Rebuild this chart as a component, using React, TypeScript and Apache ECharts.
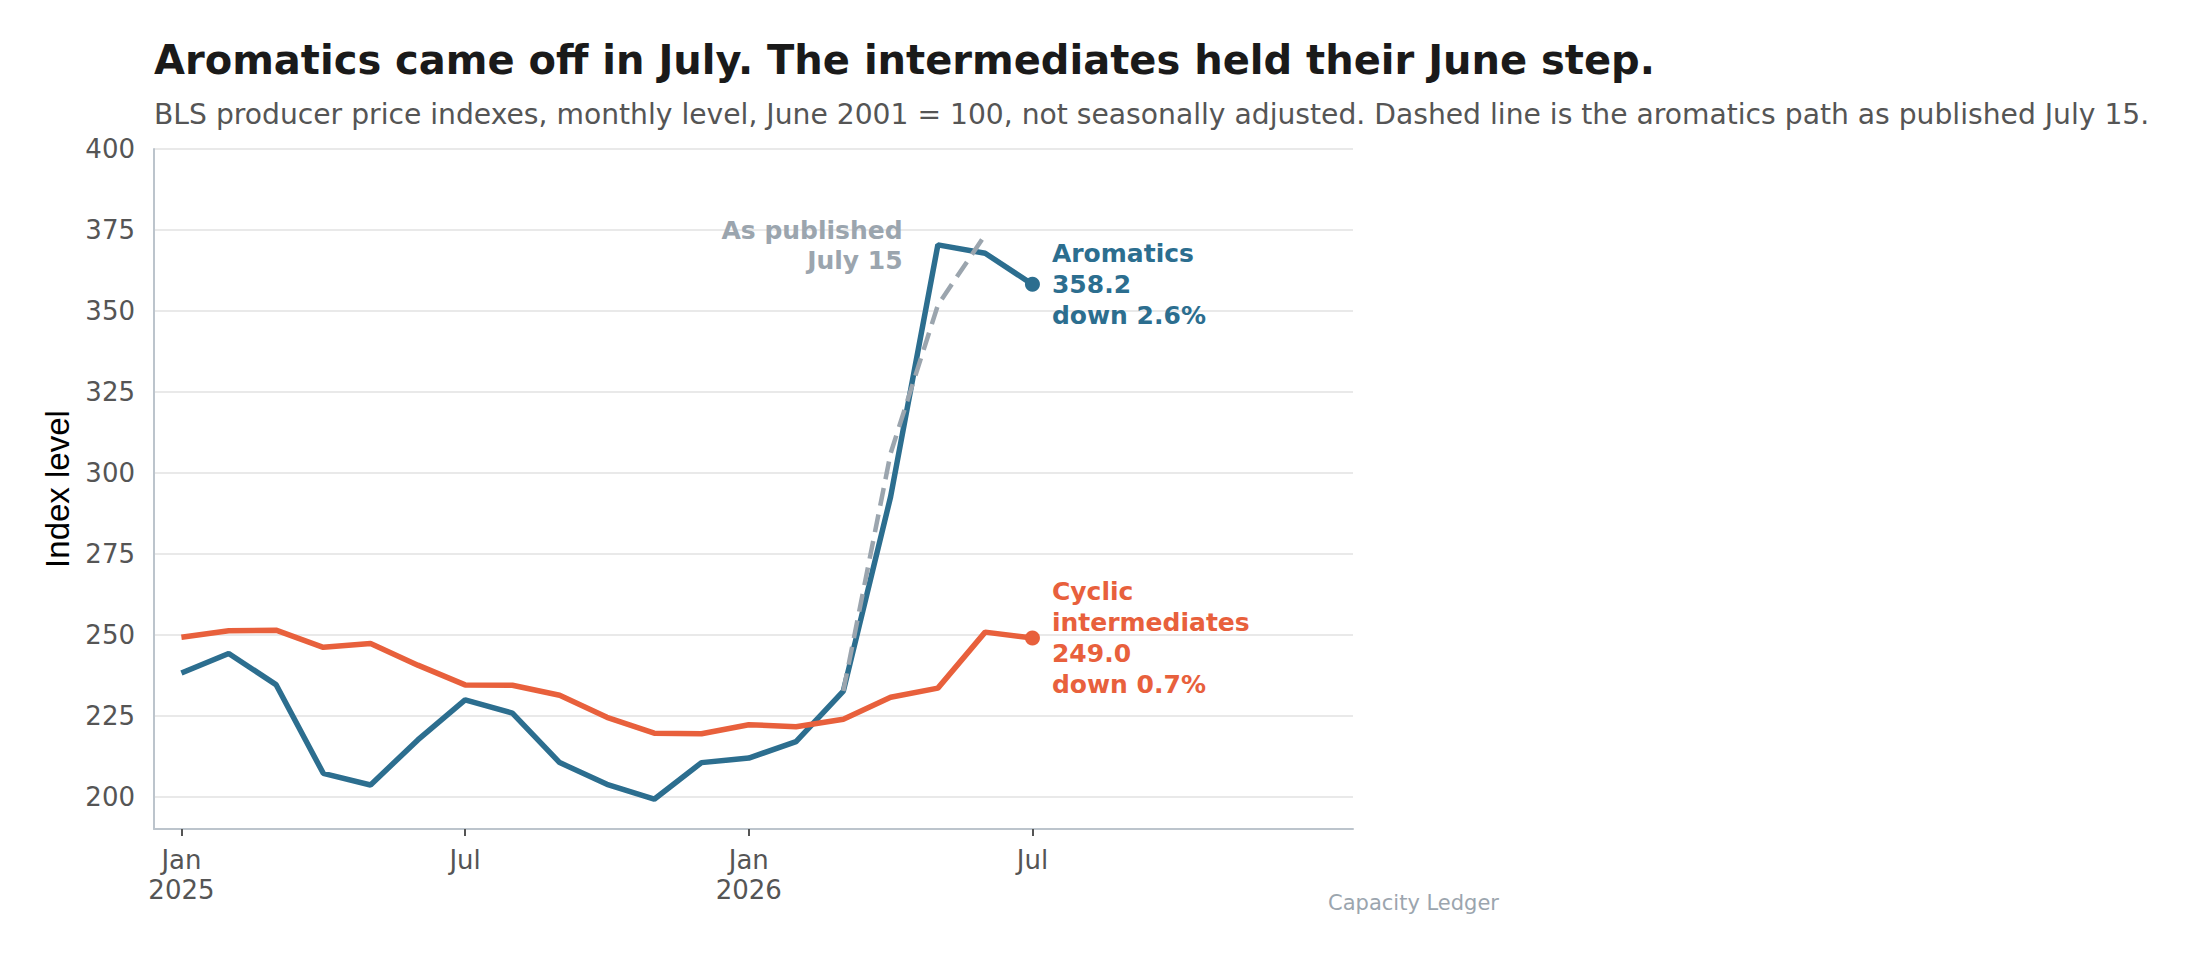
import React, { useEffect, useRef } from "react";
import * as echarts from "echarts";

// ---- data ----
const months = [
  "2025-01", "2025-02", "2025-03", "2025-04", "2025-05", "2025-06",
  "2025-07", "2025-08", "2025-09", "2025-10", "2025-11", "2025-12",
  "2026-01", "2026-02", "2026-03", "2026-04", "2026-05", "2026-06", "2026-07",
];
const aromatics = [
  238.2, 244.2, 234.6, 207.2, 203.6, 217.5, 229.9, 225.8, 210.5, 203.8,
  199.2, 210.5, 211.9, 217.0, 232.6, 292.6, 370.4, 367.8, 358.2,
];
const cyclic = [
  249.2, 251.2, 251.4, 246.1, 247.3, 240.6, 234.5, 234.4, 231.3, 224.5,
  219.6, 219.4, 222.2, 221.6, 223.9, 230.7, 233.5, 250.8, 249.0,
];
// aromatics path as published July 15 (only Mar-Jun 2026 differ)
const publishedAromatics: (number | null)[] = [
  null, null, null, null, null, null, null, null, null, null,
  null, null, null, null, 232.6, 306.0, 351.8, 373.5, null,
];
const xTickMonths = [0, 6, 12, 18];
const xTickLabels = ["Jan\n2025", "Jul", "Jan\n2026", "Jul"];
const yTicks = [200, 225, 250, 275, 300, 325, 350, 375, 400];

const TITLE = "Aromatics came off in July. The intermediates held their June step.";
const SUBTITLE =
  "BLS producer price indexes, monthly level, June 2001 = 100, not seasonally adjusted. Dashed line is the aromatics path as published July 15.";
const SOURCE = "Capacity Ledger";

const BLUE = "#2c6e8f";
const ORANGE = "#e8603c";
const GREY = "#9ba5ae";
const FONT = "DejaVu Sans";

function pctLabel(series: number[]) {
  const last = series[series.length - 1];
  const prev = series[series.length - 2];
  const chg = (last / prev - 1) * 100;
  return `${chg < 0 ? "down" : "up"} ${Math.abs(chg).toFixed(1)}%`;
}

export default function App() {
  const ref = useRef<HTMLDivElement>(null);

  useEffect(() => {
    if (!ref.current) return;
    const chart = echarts.init(ref.current, null, { renderer: "svg" });

    const lastIdx = months.length - 1;
    const pubPoints = publishedAromatics
      .map((v, i) => (v == null ? null : [i, v]))
      .filter((p) => p !== null) as number[][];
    const pubEnd = pubPoints[pubPoints.length - 1];

    const endLabel = (color: string) => ({
      show: true,
      position: "right",
      distance: 12,
      color,
      opacity: 1,
      fontWeight: "bold",
      fontSize: 25,
      lineHeight: 31,
      align: "left",
      fontFamily: FONT,
    });

    const option: any = {
      animation: false,
      backgroundColor: "#ffffff",
      textStyle: { fontFamily: FONT },
      grid: {
        left: 154,
        top: 149,
        width: 1199,
        height: 680,
        containLabel: false,
        outerBoundsMode: "none",
      },
      xAxis: {
        type: "value",
        min: -0.58,
        max: 24.78,
        axisLine: { show: true, onZero: false, lineStyle: { color: "#bcc4cc", width: 2 } },
        axisTick: {
          show: true,
          customValues: xTickMonths,
          length: 7,
          lineStyle: { color: "#555555", width: 2 },
        },
        axisLabel: {
          customValues: xTickMonths,
          formatter: (v: number) => xTickLabels[xTickMonths.indexOf(Math.round(v))] ?? "",
          color: "#555555",
          fontSize: 26,
          lineHeight: 30,
          margin: 16,
          fontFamily: FONT,
        },
        splitLine: { show: false },
      },
      yAxis: {
        type: "value",
        min: 190,
        max: 400,
        name: "Index level",
        nameLocation: "middle",
        nameGap: 80,
        nameTextStyle: {
          fontFamily: "Liberation Sans",
          fontSize: 33,
          color: "#000000",
        },
        axisLine: { show: true, onZero: false, lineStyle: { color: "#bcc4cc", width: 2 } },
        axisTick: { show: false, customValues: yTicks },
        axisLabel: {
          customValues: yTicks,
          color: "#555555",
          fontSize: 26,
          margin: 19,
          fontFamily: FONT,
        },
        splitLine: { show: true, lineStyle: { color: "#e2e2e2", width: 1.5 } },
      },
      series: [
        {
          name: "Aromatics",
          type: "line",
          data: aromatics.map((v, i) => [i, v]),
          showSymbol: false,
          symbol: "none",
          lineStyle: { color: BLUE, width: 5.5 },
          z: 3,
        },
        {
          name: "Cyclic intermediates",
          type: "line",
          data: cyclic.map((v, i) => [i, v]),
          showSymbol: false,
          symbol: "none",
          lineStyle: { color: ORANGE, width: 5.5 },
          z: 4,
        },
        {
          name: "As published July 15",
          type: "line",
          data: pubPoints,
          showSymbol: false,
          symbol: "none",
          lineStyle: { color: GREY, width: 4.5, type: [18, 9] },
          z: 5,
        },
        {
          name: "published label",
          type: "scatter",
          data: [pubEnd],
          symbolSize: 1,
          itemStyle: { color: "rgba(255,255,255,0)", opacity: 1 },
          label: {
            show: true,
            position: "left",
            distance: 82,
            offset: [0, 11],
            formatter: "As published\nJuly 15",
            color: GREY,
            opacity: 1,
            fontWeight: "bold",
            fontSize: 25,
            lineHeight: 30,
            align: "right",
            fontFamily: FONT,
          },
          z: 6,
        },
        {
          name: "Aromatics end",
          type: "scatter",
          data: [[lastIdx, aromatics[lastIdx]]],
          symbol: "circle",
          symbolSize: 15,
          itemStyle: { color: BLUE, opacity: 1 },
          label: {
            ...endLabel(BLUE),
            formatter: `Aromatics\n${aromatics[lastIdx].toFixed(1)}\n${pctLabel(aromatics)}`,
          },
          z: 7,
        },
        {
          name: "Cyclic end",
          type: "scatter",
          data: [[lastIdx, cyclic[lastIdx]]],
          symbol: "circle",
          symbolSize: 15,
          itemStyle: { color: ORANGE, opacity: 1 },
          label: {
            ...endLabel(ORANGE),
            formatter: `Cyclic\nintermediates\n${cyclic[lastIdx].toFixed(1)}\n${pctLabel(cyclic)}`,
          },
          z: 7,
        },
      ],
      graphic: [
        {
          type: "text",
          x: 154,
          y: 60,
          style: {
            text: TITLE,
            fill: "#1a1a1a",
            fontSize: 40,
            fontWeight: "bold",
            fontFamily: FONT,
            align: "left",
            verticalAlign: "middle",
          },
        },
        {
          type: "text",
          x: 154,
          y: 114,
          style: {
            text: SUBTITLE,
            fill: "#555555",
            fontSize: 28.2,
            fontFamily: FONT,
            align: "left",
            verticalAlign: "middle",
          },
        },
        {
          type: "text",
          x: 1499,
          y: 903,
          style: {
            text: SOURCE,
            fill: GREY,
            fontSize: 21,
            fontFamily: FONT,
            align: "right",
            verticalAlign: "middle",
          },
        },
      ],
    };

    chart.setOption(option);
    return () => chart.dispose();
  }, []);

  return (
    <div
      ref={ref}
      style={{ position: "absolute", left: 0, top: 0, width: 2196, height: 960 }}
    />
  );
}
